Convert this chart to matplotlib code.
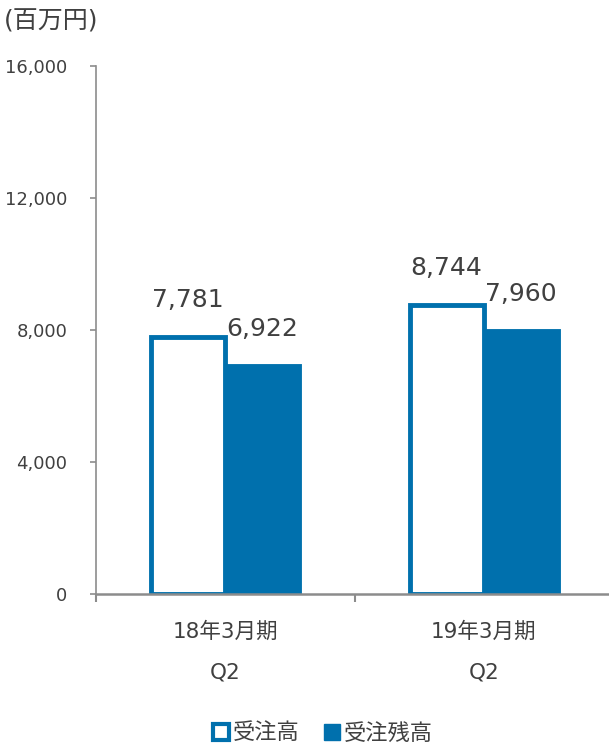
import matplotlib.pyplot as plt
from matplotlib.lines import Line2D

plt.rcParams['font.family'] = ['DejaVu Sans', 'Noto Sans CJK JP']

# chart data
periods = ["18年3月期\nQ2", "19年3月期\nQ2"]
orders = [7781, 8744]        # 受注高
backlog = [6922, 7960]       # 受注残高
series_names = ["受注高", "受注残高"]
y_ticks = [0, 4000, 8000, 12000, 16000]

blue = "#0070AD"
grey = "#8C8C8C"
text_col = "#404040"

fig = plt.figure(figsize=(6.09, 7.44), dpi=100)
W, H = 609, 744
ax = fig.add_axes([96 / W, (H - 594) / H, 517 / W, (594 - 66) / H])

x = list(range(len(periods)))
w = 0.287
b2 = ax.bar([i + w / 2 for i in x], backlog, width=w, color=blue,
            edgecolor=blue, linewidth=3.5, zorder=1)
b1 = ax.bar([i - w / 2 for i in x], orders, width=w, color="white",
            edgecolor=blue, linewidth=3.5, zorder=2)

for bars, vals in ((b1, orders), (b2, backlog)):
    for r, v in zip(bars, vals):
        ax.annotate(f"{v:,}", (r.get_x() + r.get_width() / 2, v),
                    xytext=(0, 18), textcoords="offset points",
                    ha="center", va="bottom", fontsize=18, color=text_col)

ax.set_xlim(-0.5, len(periods) - 0.5)
ax.set_ylim(0, 16000)
ax.set_yticks(y_ticks)
ax.set_yticklabels([f"{t:,}" for t in y_ticks])
ax.set_xticks([-0.5, 0.5, 1.5], minor=False)
ax.set_xticklabels([])
ax.set_xticks(x, minor=True)
ax.set_xticklabels(periods, minor=True, fontsize=15.5, color=text_col,
                   linespacing=2.25)
ax.tick_params(axis="x", which="minor", length=0, pad=20)
ax.tick_params(axis="x", which="major", length=6, width=1.5, color=grey)
ax.tick_params(axis="y", length=4.5, width=1.2, color=grey, pad=16,
               labelsize=13, labelcolor=text_col)

for s in ("top", "right"):
    ax.spines[s].set_visible(False)
for s in ("left", "bottom"):
    ax.spines[s].set_color(grey)
ax.spines["left"].set_linewidth(1.2)
ax.spines["bottom"].set_linewidth(1.8)
ax.spines["bottom"].set_zorder(5)

fig.text(4 / W, 1 - 22 / H, "(百万円)", fontsize=18, color=text_col,
         ha="left", va="center")

handles = [
    Line2D([], [], marker="s", linestyle="none", markersize=11,
           markerfacecolor="white", markeredgecolor=blue, markeredgewidth=3),
    Line2D([], [], marker="s", linestyle="none", markersize=12,
           markerfacecolor=blue, markeredgecolor=blue),
]
leg = fig.legend(handles, series_names, loc="center",
                 bbox_to_anchor=(322 / W, 1 - 733 / H), ncol=2, frameon=False,
                 fontsize=16, handletextpad=0.1, columnspacing=1.0,
                 handlelength=0.9)
for t in leg.get_texts():
    t.set_color(text_col)

fig.savefig("out.png", dpi=100, facecolor="white")
